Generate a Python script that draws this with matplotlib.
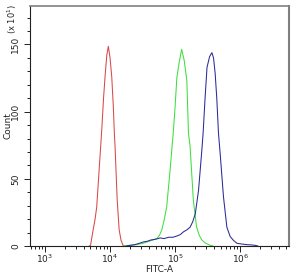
import matplotlib
matplotlib.use("Agg")
import matplotlib.pyplot as plt
import numpy as np
from matplotlib.ticker import LogLocator, MultipleLocator, NullFormatter

# log10(FITC-A) positions and counts
red_logx = [3.68, 3.70, 3.74, 3.77, 3.795, 3.83, 3.872, 3.90, 3.923, 3.95, 3.974,
            4.00, 4.026, 4.05, 4.066, 4.077, 4.11, 4.14, 4.17, 4.20, 4.23]
red_cnt = [0, 0.5, 12, 20, 29, 55, 86, 110, 126, 142, 148.6,
           140, 126, 104, 84, 74, 34, 12, 4, 0.5, 0]

green_logx = [4.20, 4.31, 4.40, 4.51, 4.60, 4.66, 4.72, 4.76, 4.795, 4.83, 4.87, 4.92,
              4.974, 5.00, 5.026, 5.06, 5.10, 5.14, 5.18, 5.205, 5.23, 5.28, 5.33,
              5.37, 5.41, 5.47, 5.54, 5.58]
green_cnt = [0, 0.5, 1, 2, 3.5, 4.5, 5.7, 8, 12, 19, 29, 55,
             86, 104, 125, 136, 146.4, 138, 123, 84, 74, 34, 14,
             8, 4.5, 2, 0.5, 0]

blue_logx = [4.25, 4.31, 4.38, 4.45, 4.51, 4.57, 4.63, 4.70, 4.77, 4.83, 4.90, 4.97,
             5.03, 5.08, 5.13, 5.18, 5.23, 5.27, 5.31, 5.36, 5.41, 5.43, 5.46, 5.49,
             5.53, 5.565, 5.59, 5.615, 5.64, 5.666, 5.69, 5.743, 5.795, 5.846, 5.90,
             5.95, 6.02, 6.10, 6.17, 6.23, 6.27]
blue_cnt = [0, 0.5, 1, 2, 3, 3.5, 4.5, 5, 6, 5.5, 6.5, 6.5,
            7.5, 8.5, 10.6, 12, 14, 18, 24, 41.6, 71, 84, 110, 133,
            141, 143.9, 140, 128.5, 110, 84, 70, 36.6, 14, 7, 4,
            2, 1.5, 1, 0.8, 0.5, 0]

fig = plt.figure(figsize=(3.04, 2.75), dpi=100)
ax = fig.add_axes([0.0987, 0.1055, 0.852, 0.8745])

ax.plot(np.power(10.0, red_logx), red_cnt, color="#d84848", lw=0.75)
ax.plot(np.power(10.0, green_logx), green_cnt, color="#3ce03c", lw=0.75)
ax.plot(np.power(10.0, blue_logx), blue_cnt, color="#2a2a98", lw=0.75)

ax.set_xscale("log")
ax.set_xlim(10 ** 2.77, 10 ** 6.75)
ax.set_ylim(0, 179)

ax.xaxis.set_major_locator(LogLocator(base=10, numticks=10))
ax.xaxis.set_minor_locator(LogLocator(base=10, subs=np.arange(2, 10), numticks=20))
ax.xaxis.set_minor_formatter(NullFormatter())
ax.yaxis.set_major_locator(MultipleLocator(50))
ax.yaxis.set_minor_locator(MultipleLocator(10))

ax.tick_params(axis="both", which="major", direction="out", length=4, width=0.7,
               labelsize=6.5, colors="#222222")
ax.tick_params(axis="x", which="major", pad=1)
ax.tick_params(axis="y", which="major", pad=3)
ax.tick_params(axis="both", which="minor", direction="out", length=2.5, width=0.6)
for lab in ax.get_yticklabels():
    lab.set_rotation(90)
    lab.set_va("center")

ax.spines["left"].set_color("#222222")
ax.spines["bottom"].set_color("#222222")
ax.spines["left"].set_linewidth(0.8)
ax.spines["bottom"].set_linewidth(0.8)
ax.spines["top"].set_color("#808080")
ax.spines["right"].set_color("#808080")
ax.spines["top"].set_linewidth(1.2)
ax.spines["right"].set_linewidth(1.5)

ax.set_xlabel("FITC-A", fontsize=6.5, color="#222222")
ax.xaxis.set_label_coords(0.5, -0.078)
ax.set_ylabel("Count", fontsize=6.5, color="#222222")
ax.yaxis.set_label_coords(-0.068, 0.5)
fig.text(0.04, 0.93, r"(x 10$^1$)", rotation=90, fontsize=6, color="#222222",
         ha="center", va="center")

fig.savefig("out.png", dpi=100)
